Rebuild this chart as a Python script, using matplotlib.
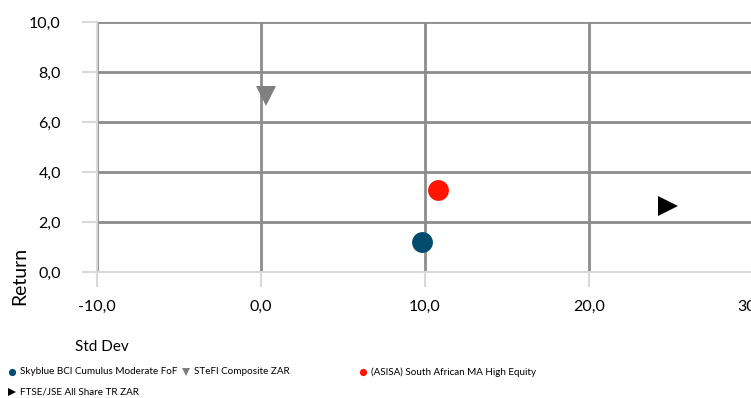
import matplotlib
matplotlib.use("Agg")
import matplotlib.pyplot as plt

plt.rcParams['font.family'] = ['Lato', 'DejaVu Sans']

series = ["Skyblue BCI Cumulus Moderate FoF", "STeFI Composite ZAR",
          "(ASISA) South African MA High Equity", "FTSE/JSE All Share TR ZAR"]
std_dev = [9.8, 0.3, 10.8, 24.8]
returns = [1.2, 7.05, 3.28, 2.64]
markers = ["o", "v", "o", ">"]
colors = ["#004B6E", "#7F7F7F", "#FF1500", "#000000"]
msizes = [15, 14.5, 15, 15]

x_ticks = [-10, 0, 10, 20, 30]
y_ticks = [0, 2, 4, 6, 8, 10]

fig = plt.figure(figsize=(7.51, 3.98), dpi=100)
ax = fig.add_axes([97/751, 1-272/398, (753-97)/751, (272-22)/398])
ax.set_xlim(-10, 30)
ax.set_ylim(0, 10)

for x, y, m, c, s in zip(std_dev, returns, markers, colors, msizes):
    ax.plot([x], [y], marker=m, color=c, markersize=s, linestyle='none',
            markeredgewidth=0, zorder=5, clip_on=False)

ax.set_xticks(x_ticks)
ax.set_yticks(y_ticks)
ax.set_xticklabels([f"{v:.1f}".replace('.', ',') for v in x_ticks], fontsize=11.5, color='#000000')
ax.set_yticklabels([f"{v:.1f}".replace('.', ',') for v in y_ticks], fontsize=11.5, color='#000000')
ax.tick_params(axis='both', length=11, width=1.5, color='#D9D9D9')
ax.tick_params(axis='y', pad=15)
ax.tick_params(axis='x', pad=9)

ax.grid(True, color='#8C8C8C', linewidth=2)
ax.set_axisbelow(True)
for sp in ['top', 'right']:
    ax.spines[sp].set_visible(False)
for sp in ['left', 'bottom']:
    ax.spines[sp].set_color('#D9D9D9')
    ax.spines[sp].set_linewidth(1.5)
    ax.spines[sp].set_zorder(3)

fig.text(20/751, 1-276/398, "Return", rotation=90, ha='center', va='center', fontsize=14)
fig.text(75/751, 1-347/398, "Std Dev", ha='left', va='center', fontsize=11)

# legend
pos = [(12, 372), (186, 372), (363, 372), (12, 392)]
for (px, py), name, m, c in zip(pos, series, markers, colors):
    fig.lines.append(plt.Line2D([px/751], [1-py/398], marker=m, color=c, markersize=5.2,
                                markeredgewidth=0, linestyle='none', transform=fig.transFigure))
    fig.text((px+8)/751, 1-py/398, name, ha='left', va='center', fontsize=7.1)

fig.savefig("out.png", dpi=100)
